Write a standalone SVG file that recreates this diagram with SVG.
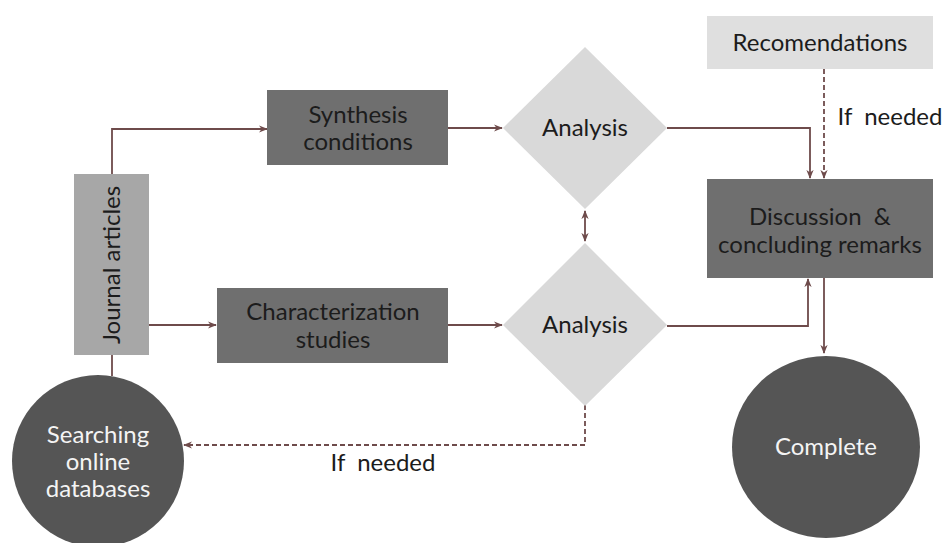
<svg xmlns="http://www.w3.org/2000/svg" width="948" height="543" viewBox="0 0 948 543">
<style>
.t{font-family:Lato,"Open Sans","Liberation Sans",sans-serif;font-size:24px;fill:#1c1c1c;text-anchor:middle;white-space:pre}
.w{fill:#f4f4f4}
.dark{fill:#6f6f6f}
.light{fill:#d9d9d9}
.c{fill:none;stroke:#6e4b4b;stroke-width:1.8}
.d{stroke-dasharray:5,3}
</style>
<defs>
<marker id="ah" viewBox="0 0 10 10" refX="9" refY="5" markerWidth="9" markerHeight="9" markerUnits="userSpaceOnUse" orient="auto-start-reverse">
<path d="M0,1 L10,5 L0,9 L3,5 Z" fill="#6e4b4b"/>
</marker>
</defs>
<rect width="948" height="543" fill="#ffffff"/>
<g id="connectors">
<polyline class="c" points="112,174 112,129 267,129" marker-end="url(#ah)"/>
<line class="c" x1="149" y1="325" x2="216" y2="325" marker-end="url(#ah)"/>
<line class="c" x1="112" y1="355" x2="112" y2="376"/>
<line class="c" x1="448" y1="128" x2="502" y2="128" marker-end="url(#ah)"/>
<line class="c" x1="448" y1="325" x2="502" y2="325" marker-end="url(#ah)"/>
<line class="c" x1="585" y1="211" x2="585" y2="241" marker-start="url(#ah)" marker-end="url(#ah)"/>
<polyline class="c" points="667,128 810,128 810,178" marker-end="url(#ah)"/>
<line class="c d" x1="824" y1="69" x2="824" y2="178" marker-end="url(#ah)"/>
<polyline class="c" points="667,326 808,326 808,279" marker-end="url(#ah)"/>
<line class="c" x1="824" y1="278" x2="824" y2="353" marker-end="url(#ah)"/>
<polyline class="c d" points="585,405 585,445 184,445" marker-end="url(#ah)"/>
<text class="t" x="383" y="471" xml:space="preserve">If  needed</text>
<text class="t" x="890" y="125" xml:space="preserve">If  needed</text>
</g>
<g id="journal">
<rect x="74" y="174" width="75" height="181" fill="#a7a7a7"/>
<text class="t" transform="translate(120,265) rotate(-90)">Journal articles</text>
</g>
<g id="synthesis">
<rect class="dark" x="267" y="90" width="181" height="75"/>
<text class="t" x="358" y="123">Synthesis</text>
<text class="t" x="358" y="150">conditions</text>
</g>
<g id="characterization">
<rect class="dark" x="217" y="288" width="231" height="75"/>
<text class="t" x="333" y="320">Characterization</text>
<text class="t" x="333" y="348">studies</text>
</g>
<g id="analysis1">
<polygon class="light" points="585,47 667,128 585,209 503,128"/>
<text class="t" x="585" y="136">Analysis</text>
</g>
<g id="analysis2">
<polygon class="light" points="585,243 667,325 585,406 503,325"/>
<text class="t" x="585" y="333">Analysis</text>
</g>
<g id="recommendations">
<rect x="707" y="16" width="226" height="53" fill="#dfdfdf"/>
<text class="t" x="820" y="51">Recomendations</text>
</g>
<g id="discussion">
<rect class="dark" x="707" y="179" width="226" height="99"/>
<text class="t" x="820" y="225" xml:space="preserve">Discussion  &amp;</text>
<text class="t" x="820" y="253">concluding remarks</text>
</g>
<g id="searching">
<circle cx="98" cy="461" r="86" fill="#555555"/>
<text class="t w" x="98" y="443">Searching</text>
<text class="t w" x="98" y="470">online</text>
<text class="t w" x="98" y="497">databases</text>
</g>
<g id="complete">
<ellipse cx="826" cy="447" rx="94" ry="91" fill="#555555"/>
<text class="t w" x="826" y="455">Complete</text>
</g>
</svg>
